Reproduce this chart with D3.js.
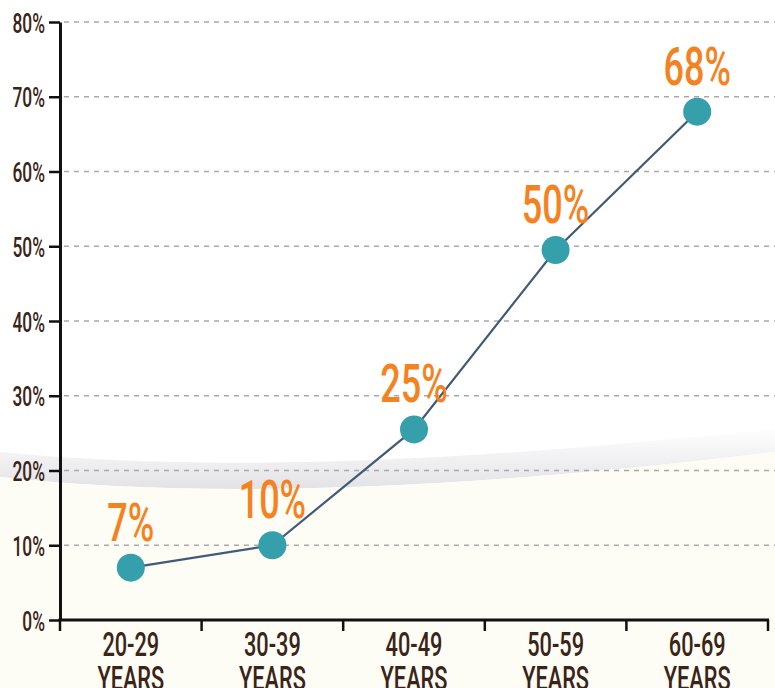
<!DOCTYPE html>
<html>
<head>
<meta charset="utf-8">
<style>
  html, body { margin: 0; padding: 0; background: #fff; }
  svg { display: block; }
</style>
</head>
<body>
<div id="chart"></div>
<script src="https://d3js.org/d3.v7.min.js"></script>
<script>
  // data
  const categories = ["20-29", "30-39", "40-49", "50-59", "60-69"];
  const values = [7, 10, 25.5, 49.5, 68];
  const valueLabels = ["7%", "10%", "25%", "50%", "68%"];
  const yTicks = [0, 10, 20, 30, 40, 50, 60, 70, 80];

  const width = 775, height = 688;
  const svg = d3.select("#chart").append("svg")
    .attr("width", width)
    .attr("height", height);

  // background: white top, cream bottom with soft curved shadow
  const defs = svg.append("defs");
  const grad = defs.append("linearGradient")
    .attr("id", "shade").attr("x1", 0).attr("y1", 0).attr("x2", 0).attr("y2", 1);
  grad.append("stop").attr("offset", "0%").attr("stop-color", "#ffffff");
  grad.append("stop").attr("offset", "100%").attr("stop-color", "#e3e3e6");

  svg.append("rect").attr("width", width).attr("height", height).attr("fill", "#fff");
  svg.append("path")
    .attr("d", "M0,452 Q300,482 775,428 L775,452 Q300,510 0,477 Z")
    .attr("fill", "url(#shade)");
  svg.append("path")
    .attr("d", "M0,477 Q300,510 775,452 L775,688 L0,688 Z")
    .attr("fill", "#fdfcf5");

  const x = d3.scaleBand().domain(categories).range([60, 768]).padding(0);
  const y = d3.scaleLinear().domain([0, 80]).range([620, 22]);

  const textColor = "#3a2418";

  // gridlines
  svg.append("g")
    .selectAll("line")
    .data(yTicks.filter(d => d > 0))
    .join("line")
    .attr("x1", 64).attr("x2", width)
    .attr("y1", d => y(d)).attr("y2", d => y(d))
    .attr("stroke", "#a9a9a9")
    .attr("stroke-width", 1.4)
    .attr("stroke-dasharray", "5,5");

  // y axis
  const yAxis = svg.append("g")
    .attr("transform", "translate(60,0)")
    .call(d3.axisLeft(y).tickValues(yTicks).tickSize(11).tickSizeOuter(0).tickFormat(d => d + "%"));
  yAxis.select(".domain").attr("stroke", "#111").attr("stroke-width", 3);
  yAxis.selectAll(".tick line").attr("stroke", "#111").attr("stroke-width", 2.5);
  yAxis.selectAll(".tick text").remove();
  yAxis.selectAll(".tick").append("text")
    .attr("transform", "translate(-15,0) scale(0.62,1)")
    .attr("dy", "0.36em")
    .attr("text-anchor", "end")
    .attr("fill", textColor)
    .style("font-family", "Roboto")
    .style("font-weight", 500)
    .style("font-size", "28px")
    .text(d => d + "%");

  // x axis
  const xg = svg.append("g");
  xg.append("line")
    .attr("x1", x.range()[0] - 1.5).attr("x2", x.range()[1] + 1)
    .attr("y1", y(0)).attr("y2", y(0))
    .attr("stroke", "#111").attr("stroke-width", 3);
  const edges = categories.map(c => x(c)).concat([x.range()[1]]);
  xg.selectAll(".xt")
    .data(edges)
    .join("line")
    .attr("x1", d => d).attr("x2", d => d)
    .attr("y1", y(0)).attr("y2", y(0) + 11)
    .attr("stroke", "#111").attr("stroke-width", 2.5);
  const xl = xg.selectAll(".xl")
    .data(categories)
    .join("text")
    .attr("transform", d => `translate(${x(d) + x.bandwidth() / 2},0) scale(0.64,1)`)
    .attr("text-anchor", "middle")
    .attr("fill", textColor)
    .style("font-family", "Roboto")
    .style("font-weight", 500)
    .style("font-size", "34px");
  xl.append("tspan").attr("x", 0).attr("y", 656).text(d => d);
  xl.append("tspan").attr("x", 0).attr("y", 690).text("YEARS");

  // line
  const cx = d => x(d) + x.bandwidth() / 2;
  const line = d3.line()
    .x((d, i) => cx(categories[i]))
    .y(d => y(d));
  svg.append("path")
    .datum(values)
    .attr("d", line)
    .attr("fill", "none")
    .attr("stroke", "#405a78")
    .attr("stroke-width", 2.2);

  // points
  svg.append("g")
    .selectAll("circle")
    .data(values)
    .join("circle")
    .attr("cx", (d, i) => cx(categories[i]))
    .attr("cy", d => y(d))
    .attr("r", 14)
    .attr("fill", "#35a0ac");

  // value labels
  svg.append("g")
    .selectAll("text")
    .data(values)
    .join("text")
    .attr("transform", (d, i) => `translate(${cx(categories[i])},${y(d) - 27}) scale(0.68,1)`)
    .attr("text-anchor", "middle")
    .attr("fill", "#f58220")
    .style("font-family", "Roboto")
    .style("font-weight", 500)
    .style("font-size", "53px")
    .text((d, i) => valueLabels[i]);
</script>
</body>
</html>
